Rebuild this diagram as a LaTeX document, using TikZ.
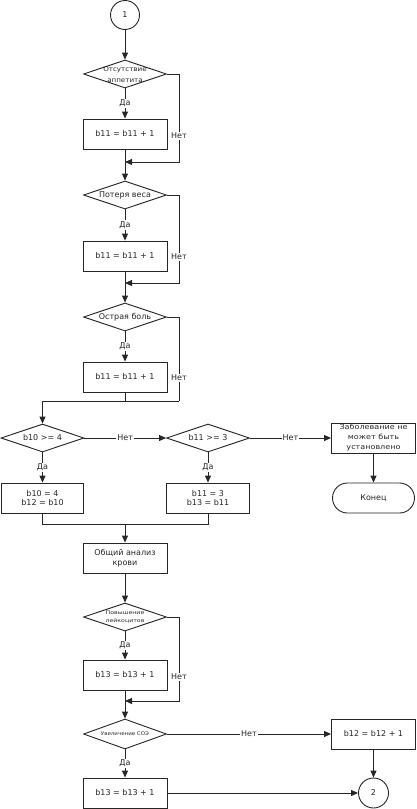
\documentclass[tikz,border=0pt]{standalone}
\usepackage{fontspec}
\setmainfont{DejaVu Sans}
\usetikzlibrary{shapes.geometric,shapes.misc,arrows.meta}
\newcommand\hstr[2]{\scalebox{#1}[1]{#2}}
\begin{document}
\begin{tikzpicture}[x=1pt,y=-1pt,
  font=\fontsize{8}{9.5}\selectfont,
  line width=0.9pt, draw=black!85, text=black!85,
  >={Triangle[length=7pt,width=6pt]},
  box/.style={draw, rectangle, minimum width=84pt, minimum height=30pt, inner sep=1pt, align=center},
  dia/.style={draw, diamond, minimum width=83pt, minimum height=28pt, inner sep=0pt},
  circ/.style={draw, circle, minimum size=29pt, inner sep=0pt},
  term/.style={draw, rounded rectangle, minimum width=84pt, minimum height=30pt, inner sep=1pt},
  lbl/.style={fill=white, inner sep=1pt},
  dtxt/.style={align=center, inner sep=0pt}]
\useasboundingbox (0,0) rectangle (416,809);

% nodes
\node[circ] (c1) at (125,15) {1};
\node[dia] (d1) at (125,74) {};
\node[dtxt, font=\fontsize{6.5}{10.5}\selectfont] (t1) at (125,74.5) {\hstr{1.1}{Отсутствие}\\\hstr{1.1}{аппетита}};
\node[box] (b1) at (125,134) {b11 = b11 + 1};
\node[dia] (d2) at (125,195) {};
\node[dtxt] (t2) at (d2) {Потеря веса};
\node[box] (b2) at (125,256) {b11 = b11 + 1};
\node[dia] (d3) at (125,317) {};
\node[dtxt] (t3) at (d3) {Острая боль};
\node[box] (b3) at (125,377) {b11 = b11 + 1};

\node[dia] (d4) at (42.5,438) {};
\node[dtxt] (t4) at (d4) {b10 >= 4};
\node[dia] (d5) at (208,438) {};
\node[dtxt] (t5) at (d5) {b11 >= 3};
\node[box, font=\fontsize{7}{10}\selectfont] (bx) at (373.5,438) {\hstr{1.15}{Заболевание не}\\\hstr{1.15}{может быть}\\\hstr{1.15}{установлено}};
\node[term] (en) at (373.5,498) {Конец};
\node[box, minimum width=82pt] (b4) at (42.5,498) {b10 = 4\\b12 = b10};
\node[box, minimum width=83pt] (b5) at (208,498) {b11 = 3\\b13 = b11};
\node[box] (ob) at (125,558) {Общий анализ\\крови};

\node[dia] (d6) at (125,617) {};
\node[dtxt, font=\fontsize{5}{8}\selectfont] (t6) at (125,617) {\hstr{1.25}{Повышение}\\\hstr{1.25}{лейкоцитов}};
\node[box] (b6) at (125,675) {b13 = b13 + 1};
\node[dia, minimum height=30pt] (d7) at (125,734) {};
\node[dtxt, font=\fontsize{5}{8}\selectfont] (t7) at (d7) {\hstr{1.1}{Увеличение СОЭ}};
\node[box] (b7) at (373.5,734) {b12 = b12 + 1};
\node[box] (b8) at (125,793) {b13 = b13 + 1};
\node[circ, minimum size=30pt] (c2) at (373.5,793) {2};

% helper coordinates
\coordinate (r1) at (179,162);
\coordinate (m1) at (125,162);
\coordinate (r2) at (179,283);
\coordinate (m2) at (125,283);
\coordinate (r3) at (179,401);
\coordinate (m3) at (125,401);
\coordinate (j3) at (42.5,401);
\coordinate (j4) at (125,524);
\coordinate (r6) at (179,701);
\coordinate (m6) at (125,701);

% connectors
\draw[->] (c1) -- (d1);
\draw[->] (d1) -- node[lbl] (y1) {Да} (b1);
\draw[->] (d1.east) -| (r1) -- (m1);
\node[lbl] (n1) at (179,136) {Нет};
\draw[->] (b1) -- (d2);

\draw[->] (d2) -- node[lbl] (y2) {Да} (b2);
\draw[->] (d2.east) -| (r2) -- (m2);
\node[lbl] (n2) at (179,257) {Нет};
\draw[->] (b2) -- (d3);

\draw[->] (d3) -- node[lbl] (y3) {Да} (b3);
\draw (d3.east) -| (r3);
\node[lbl] (n3) at (179,378) {Нет};
\draw (b3.south) -- (m3);
\draw[->] (r3) -- (j3) -- (d4.north);

\draw[->] (d4.east) -- node[lbl] (n4) {Нет} (d5.west);
\draw[->] (d5.east) -- node[lbl] (n5) {Нет} (bx.west);
\draw[->] (bx) -- (en);
\draw[->] (d4) -- node[lbl] (y4) {Да} (b4);
\draw[->] (d5) -- node[lbl] (y5) {Да} (b5);
\draw (b4.south) |- (j4);
\draw (b5.south) |- (j4);
\draw[->] (j4) -- (ob.north);
\draw[->] (ob) -- (d6);

\draw[->] (d6) -- node[lbl] (y6) {Да} (b6);
\draw[->] (d6.east) -| (r6) -- (m6);
\node[lbl] (n6) at (179,677) {Нет};
\draw[->] (b6) -- (d7);

\draw[->] (d7.east) -- node[lbl] (n7) {Нет} (b7.west);
\draw[->] (d7) -- node[lbl] (y7) {Да} (b8);
\draw[->] (b8) -- (c2);
\draw[->] (b7) -- (c2);
\end{tikzpicture}
\end{document}
